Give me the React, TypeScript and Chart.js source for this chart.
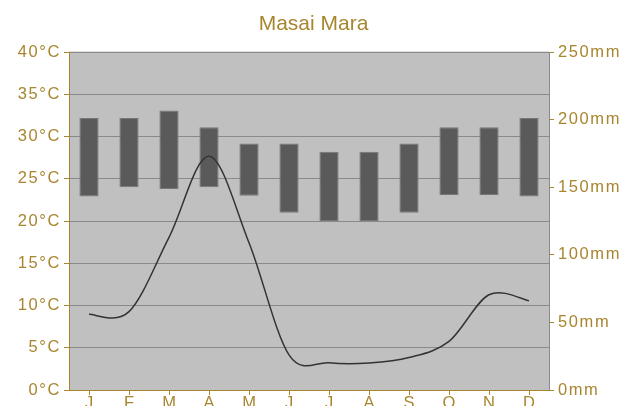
import React, { useEffect, useRef } from 'react';
import { Chart, registerables } from 'chart.js';

Chart.register(...registerables);

const months = ['J', 'F', 'M', 'A', 'M', 'J', 'J', 'A', 'S', 'O', 'N', 'D'];
const tempMax = [32.2, 32.2, 33.1, 31.1, 29.2, 29.2, 28.2, 28.2, 29.2, 31.1, 31.1, 32.2];
const tempMin = [22.9, 24, 23.8, 24, 23, 21, 20, 20, 21, 23.1, 23.1, 22.9];
const precipitation = [56, 58, 113, 173, 109, 26, 20.2, 20, 24, 36, 70.5, 66];
const tempUnit = '°C';
const precipUnit = 'mm';
const title = 'Masai Mara';

const GOLD = '#a8862f';
const FONT = 'Liberation Sans, Arial, sans-serif';

// uniform Catmull-Rom smoothing for the precipitation line
const smoothLine = {
  id: 'smoothLine',
  beforeDatasetDraw(chart: any, args: any) {
    const meta = args.meta;
    if (meta.type !== 'line') return;
    const line = meta.dataset;
    const pts = meta.data;
    if (line && line.updateControlPoints) line.updateControlPoints(chart.chartArea);
    const k = 1 / 6;
    for (let i = 0; i < pts.length; i++) {
      const cur = pts[i];
      const prev = pts[i - 1] || cur;
      const next = pts[i + 1] || cur;
      const dx = next.x - prev.x;
      const dy = next.y - prev.y;
      cur.cp1x = cur.x - k * dx;
      cur.cp1y = cur.y - k * dy;
      cur.cp2x = cur.x + k * dx;
      cur.cp2y = cur.y + k * dy;
    }
    if (line) line._pointsUpdated = true;
  },
};

const plotBg = {
  id: 'plotBg',
  beforeDraw(chart: any) {
    const { ctx, chartArea: a } = chart;
    ctx.save();
    ctx.fillStyle = '#c0c0c0';
    ctx.fillRect(a.left, a.top, a.right - a.left, a.bottom - a.top);
    ctx.fillStyle = '#d8d8d8';
    ctx.fillRect(a.left, a.top - 1, a.right - a.left, 1);
    ctx.restore();
  },
  afterDatasetsDraw(chart: any) {
    (chart.ctx as any).letterSpacing = '1.6px';
  },
  afterDraw(chart: any) {
    (chart.ctx as any).letterSpacing = '0px';
  },
};

export default function App() {
  const ref = useRef<HTMLCanvasElement | null>(null);

  useEffect(() => {
    if (!ref.current) return;
    const chart = new Chart(ref.current, {
      type: 'bar',
      data: {
        labels: months,
        datasets: [
          {
            type: 'line',
            data: precipitation,
            yAxisID: 'y1',
            borderColor: '#333333',
            borderWidth: 1.5,
            pointRadius: 0,
            tension: 0.4,
            fill: false,
            order: 0,
          } as any,
          {
            type: 'bar',
            data: tempMin.map((v, i) => [v, tempMax[i]]),
            yAxisID: 'y',
            backgroundColor: '#5a5a5a',
            borderColor: '#777777',
            borderWidth: 1,
            borderSkipped: false,
            barPercentage: 0.48,
            categoryPercentage: 1,
            order: 1,
          } as any,
        ],
      },
      options: {
        responsive: false,
        animation: false,
        layout: { padding: { left: 0, right: 10, top: 0, bottom: 0 } },
        plugins: {
          legend: { display: false },
          tooltip: { enabled: false },
          title: {
            display: true,
            text: title,
            color: GOLD,
            font: { family: FONT, size: 21, weight: 'normal' },
            padding: { top: 12, bottom: 15 },
          },
        },
        scales: {
          x: {
            offset: true,
            grid: {
              offset: false,
              drawOnChartArea: false,
              drawTicks: true,
              tickLength: 5,
              tickColor: GOLD,
              z: -1,
            },
            border: { color: GOLD, width: 1, z: 1 },
            ticks: {
              color: GOLD,
              font: { family: FONT, size: 16.5 },
              padding: -1.5,
              autoSkip: false,
              maxRotation: 0,
            },
            afterFit: (s: any) => {
              s.height = 30;
            },
          } as any,
          y: {
            position: 'left',
            min: 0,
            max: 40,
            ticks: {
              stepSize: 5,
              color: GOLD,
              font: { family: FONT, size: 16.5 },
              padding: 3,
              z: 1,
              callback: (v: any) => v + tempUnit,
            },
            grid: { color: '#8a8a8a', tickColor: GOLD, tickLength: 5, z: -2 },
            border: { color: GOLD, width: 1 },
            afterFit: (s: any) => {
              s.width = 69;
            },
          } as any,
          y1: {
            position: 'right',
            min: 0,
            max: 250,
            ticks: {
              stepSize: 50,
              color: GOLD,
              font: { family: FONT, size: 16.5 },
              padding: 4,
              z: 1,
              callback: (v: any) => v + precipUnit,
            },
            grid: { drawOnChartArea: false, tickColor: GOLD, tickLength: 5 },
            border: { color: '#8a8a8a', width: 1 },
            afterFit: (s: any) => {
              s.width = 78;
            },
          } as any,
        },
      },
      plugins: [plotBg, smoothLine],
    });
    return () => chart.destroy();
  }, []);

  return (
    <div style={{ position: 'fixed', left: 0, top: 0, width: 637, height: 420 }}>
      <canvas ref={ref} width={637} height={420} style={{ display: 'block' }} />
    </div>
  );
}
